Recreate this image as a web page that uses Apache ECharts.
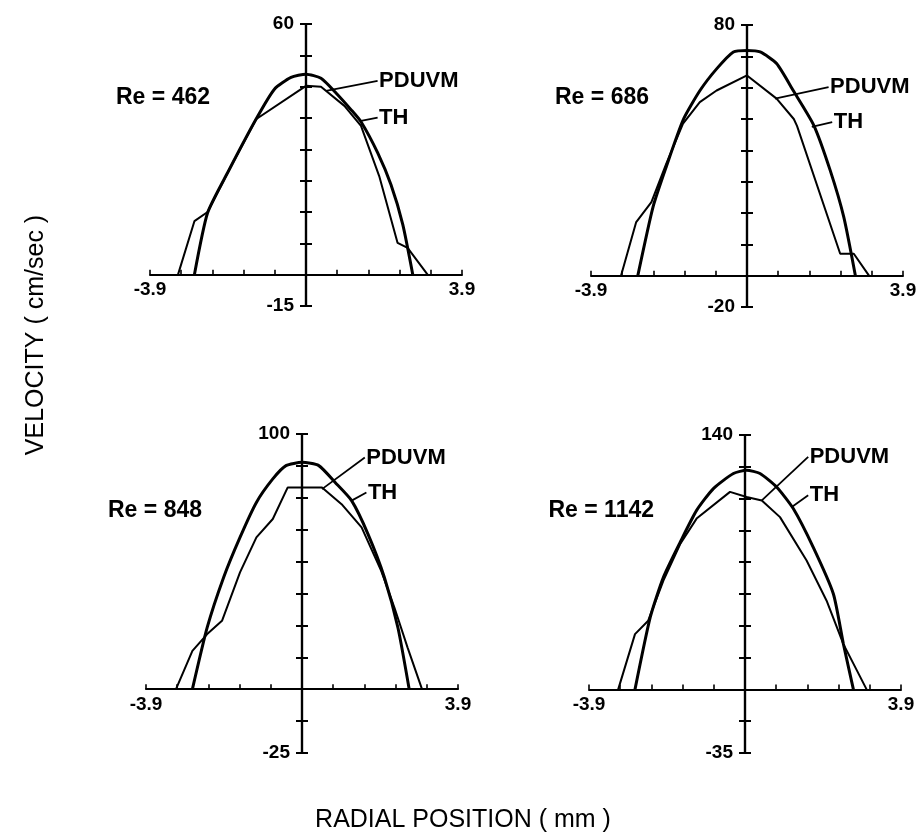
<!DOCTYPE html>
<html><head><meta charset="utf-8">
<script src="https://cdn.jsdelivr.net/npm/echarts@6/dist/echarts.min.js"></script>
<style>html,body{margin:0;padding:0;background:#fff}#c{width:924px;height:838px}</style>
</head><body><div id="c"></div>
<script>
// ---- data ----
const reLabels = ['Re = 462', 'Re = 686', 'Re = 848', 'Re = 1142'];
const yMax = [60, 80, 100, 140];
const yMin = [-7.5, -10, -25, -35];
const yStep = [7.5, 10, 12.5, 17.5];
const yTopLabels = ['60', '80', '100', '140'];
const yBottomLabels = ['-15', '-20', '-25', '-35'];
const xMin = -3.9, xMax = 3.9, xStep = 0.78;
const xTickLabels = ['-3.9', '3.9'];

const th462X = [-2.79, -2.46, -1.96, -1.25, -0.79, -0.375, 0, 0.375, 0.75, 1.125, 1.375, 1.79, 2.125, 2.42, 2.67];
const th462V = [0, 14.8, 24.4, 37.2, 44.4, 47.2, 48, 47.0, 43.5, 39.5, 36.6, 29.2, 21.5, 12, 0];
const pd462X = [-3.2, -2.79, -2.46, -1.96, -1.25, 0, 0.375, 0.96, 1.375, 1.83, 2.29, 2.54, 3.04];
const pd462V = [0, 12.8, 15, 24.4, 37.2, 45.2, 45, 40.4, 35.6, 23.6, 7.6, 6.4, 0];

const th686X = [-2.73, -2.35, -2.02, -1.6, -1.18, -0.76, -0.34, 0, 0.33, 0.74, 1.16, 1.67, 2.08, 2.42, 2.71];
const th686V = [0, 21.9, 34.7, 49.6, 59, 66, 71.4, 71.9, 71.4, 67.7, 59, 48, 33.6, 18.7, 0];
const pd686X = [-3.15, -2.77, -2.39, -2.02, -1.6, -1.18, -0.76, 0, 0.74, 1.17, 1.25, 2.33, 2.67, 3.05];
const pd686V = [0, 17.1, 23.5, 35.7, 48.5, 55.4, 59.1, 63.9, 56.5, 50, 47.8, 7, 7, 0];

const th848X = [-2.74, -2.37, -1.96, -1.55, -1.14, -0.73, -0.4, 0, 0.42, 0.83, 1.24, 1.65, 2.06, 2.4, 2.68];
const th848V = [0, 24.2, 43.8, 59.5, 73.2, 82.4, 87.6, 88.9, 87.6, 81, 73.9, 60.8, 43.8, 24, 0];
const pd848X = [-3.15, -2.74, -2.37, -2.0, -1.55, -1.14, -0.73, -0.36, 0.5, 0.99, 1.49, 1.98, 2.31, 2.64, 3.0];
const pd848V = [0, 15, 21.6, 26.8, 45.8, 59.5, 66.7, 79, 79, 72.5, 63.4, 46.4, 32, 16.3, 0];

const th1142X = [-2.75, -2.37, -2.04, -1.62, -1.21, -0.79, -0.29, 0.04, 0.375, 0.79, 1.21, 1.71, 2.21, 2.46, 2.71];
const th1142V = [0, 39.6, 61.7, 81, 98.5, 110.5, 118.8, 120.6, 118.8, 111.4, 99.4, 78, 52.5, 25, 0];
const pd1142X = [-3.17, -2.75, -2.42, -2.04, -1.62, -1.21, -0.375, 0.04, 0.42, 0.875, 1.54, 2.04, 2.46, 3.04];
const pd1142V = [0, 30.4, 37.8, 59.9, 80, 94, 108.7, 105.9, 104, 94.8, 70.9, 48.8, 24.9, 0];

const thX = [th462X, th686X, th848X, th1142X];
const thV = [th462V, th686V, th848V, th1142V];
const pdX = [pd462X, pd686X, pd848X, pd1142X];
const pdV = [pd462V, pd686V, pd848V, pd1142V];

// annotation leaders in data units: [labelX, labelY, curveX, curveY]
const leaderPD = [[1.79, 46.4, 0.5, 44.0], [2.04, 60.2, 0.70, 56.5], [1.57, 90.8, 0.5, 78.4], [1.58, 128, 0.42, 104]];
const leaderTH = [[1.79, 37.6, 1.375, 36.8], [2.13, 49, 1.62, 47.5], [1.61, 77.1, 1.24, 73.9], [1.58, 106.8, 1.17, 100.4]];

// ---- layout ----
const grids = [
  {left: 150, top: 24, width: 312, height: 282},
  {left: 591, top: 25, width: 312, height: 282},
  {left: 146, top: 434, width: 312, height: 319},
  {left: 589, top: 435, width: 312, height: 318}
];
const reLabelPos = [[210, 98], [649, 98], [202, 511], [654, 511]];

const FONT = '"Liberation Sans", Arial, Helvetica, sans-serif';
const near = (a, b) => Math.abs(a - b) < 1e-6;

const xAxes = [], yAxes = [], series = [];
for (let k = 0; k < 4; k++) {
  const g = grids[k];
  const xOff = -g.height * (0 - yMin[k]) / (yMax[k] - yMin[k]);
  const yOff = -g.width * (0 - xMin) / (xMax - xMin);
  xAxes.push({
    type: 'value', gridIndex: k, min: xMin, max: xMax, interval: xStep,
    position: 'bottom', offset: xOff,
    axisLine: {onZero: false, lineStyle: {color: '#000', width: 2}},
    axisTick: {inside: true, length: 5, lineStyle: {color: '#000', width: 1.6}},
    splitLine: {show: false},
    axisLabel: {
      color: '#000', fontSize: 19, fontWeight: 'bold', fontFamily: FONT, margin: 6,
      showMinLabel: true, showMaxLabel: true,
      formatter: v => near(v, xMin) ? xTickLabels[0] : (near(v, xMax) ? xTickLabels[1] : '')
    }
  });
  const yBase = {
    type: 'value', gridIndex: k, min: yMin[k], max: yMax[k], interval: yStep[k],
    splitLine: {show: false}, offset: yOff,
    axisLine: {onZero: false, lineStyle: {color: '#000', width: 2.2}},
    axisTick: {inside: false, length: 6, lineStyle: {color: '#000', width: 2}}
  };
  yAxes.push(Object.assign({}, yBase, {
    position: 'left',
    axisLabel: {
      color: '#000', fontSize: 19, fontWeight: 'bold', fontFamily: FONT, margin: 12,
      showMinLabel: true, showMaxLabel: true,
      formatter: v => near(v, yMax[k]) ? yTopLabels[k] : (near(v, yMin[k]) ? yBottomLabels[k] : '')
    }
  }));
  yAxes.push(Object.assign({}, yBase, {
    position: 'right',
    axisLabel: {show: false}
  }));

  const mkLeader = (L) => ({
    symbol: ['none', 'none'], silent: true, animation: false,
    lineStyle: {color: '#000', width: 1.8, type: 'solid'},
    label: {show: false},
    data: [[{coord: [L[0], L[1]]}, {coord: [L[2], L[3]]}]]
  });
  const mkText = (L, name) => ({
    symbol: 'circle', symbolSize: 1, silent: true, animation: false,
    itemStyle: {color: 'rgba(0,0,0,0)'},
    label: {show: true, position: 'right', distance: 1, formatter: name,
      color: '#000', fontSize: 22, fontWeight: 'bold', fontFamily: FONT},
    data: [{coord: [L[0], L[1]]}]
  });

  series.push({
    name: 'TH', type: 'line', xAxisIndex: k, yAxisIndex: 2 * k,
    data: thX[k].map((x, i) => [x, thV[k][i]]),
    showSymbol: false, smooth: 0.2, smoothMonotone: 'none',
    lineStyle: {color: '#000', width: 3}, itemStyle: {color: '#000'},
    markLine: mkLeader(leaderTH[k]), markPoint: mkText(leaderTH[k], 'TH')
  });
  series.push({
    name: 'PDUVM', type: 'line', xAxisIndex: k, yAxisIndex: 2 * k,
    data: pdX[k].map((x, i) => [x, pdV[k][i]]),
    showSymbol: false, smooth: false,
    lineStyle: {color: '#000', width: 2}, itemStyle: {color: '#000'},
    markLine: mkLeader(leaderPD[k]), markPoint: mkText(leaderPD[k], 'PDUVM')
  });
}

const graphics = reLabels.map((t, k) => ({
  type: 'text', x: reLabelPos[k][0], y: reLabelPos[k][1],
  style: {text: t, font: 'bold 23px ' + FONT, fill: '#000', align: 'right', verticalAlign: 'middle'}
}));
graphics.push({
  type: 'text', x: 36, y: 335, rotation: Math.PI / 2,
  style: {text: 'VELOCITY ( cm/sec )', font: '25px ' + FONT, fill: '#000', align: 'center', verticalAlign: 'middle'}
});
graphics.push({
  type: 'text', x: 463, y: 820,
  style: {text: 'RADIAL POSITION ( mm )', font: '25px ' + FONT, fill: '#000', align: 'center', verticalAlign: 'middle'}
});

const chart = echarts.init(document.getElementById('c'), null, {renderer: 'canvas'});
chart.setOption({
  backgroundColor: '#fff',
  animation: false,
  grid: grids,
  xAxis: xAxes,
  yAxis: yAxes,
  series: series,
  graphic: graphics
});
</script></body></html>
